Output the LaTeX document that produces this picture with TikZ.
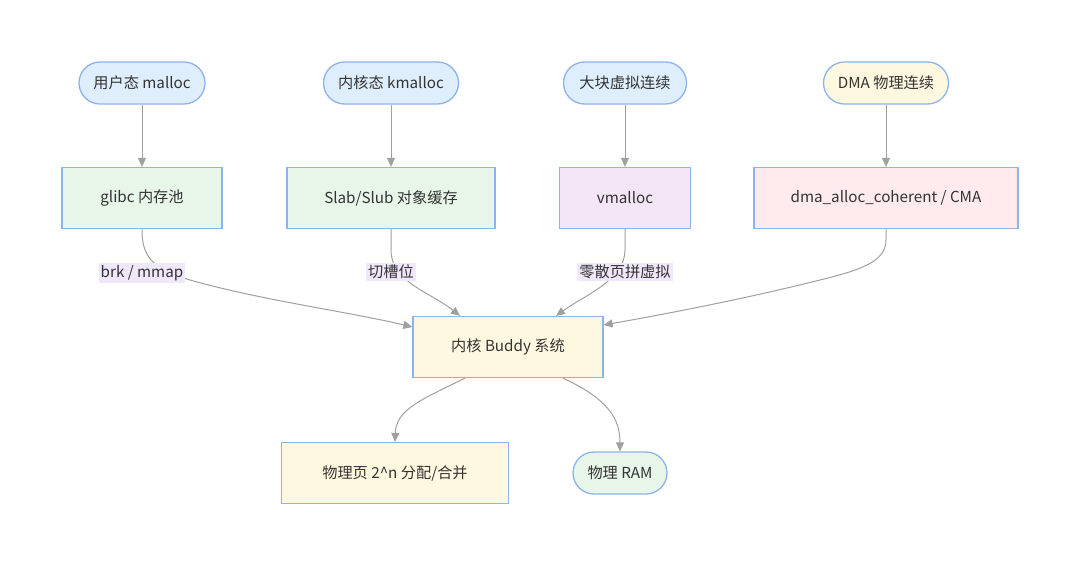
\documentclass[tikz,border=0pt]{standalone}
\usepackage{fontspec}
\setmainfont{Noto Sans CJK SC}
\usetikzlibrary{arrows.meta,calc}
\definecolor{txt}{HTML}{333333}
\definecolor{bord}{HTML}{8DB3EB}
\definecolor{fblue}{HTML}{DFEEFC}
\definecolor{fgreen}{HTML}{E8F5E9}
\definecolor{fyellow}{HTML}{FFF8E1}
\definecolor{fpurple}{HTML}{F3E5F5}
\definecolor{fpink}{HTML}{FFEBEE}
\definecolor{flabel}{HTML}{EEE8FA}
\definecolor{edgec}{HTML}{A0A0A0}
\tikzset{
  base/.style={draw=bord, line width=1.3pt, text=txt, font=\fontsize{15.2}{17}\selectfont, inner sep=0pt},
  stadium/.style={base, rectangle, rounded corners=21pt, minimum height=42pt},
  boxn/.style={base, rectangle, minimum height=61pt},
  elabel/.style={fill=flabel, text=txt, font=\fontsize{15.2}{17}\selectfont, inner sep=2pt},
  edge/.style={draw=edgec, line width=1pt, -{Triangle[length=9pt,width=8pt]}},
}
\begin{document}
\begin{tikzpicture}[x=1pt,y=-1pt]
\useasboundingbox (0,0) rectangle (1080,566);
\fill[white] (0,0) rectangle (1080,566);
% top stadiums
\node[stadium, fill=fblue, minimum width=126pt] (A) at (142,83) {用户态 malloc};
\node[stadium, fill=fblue, minimum width=135pt] (B) at (391,83) {内核态 kmalloc};
\node[stadium, fill=fblue, minimum width=123pt] (C) at (625,83) {大块虚拟连续};
\node[stadium, fill=fyellow, minimum width=125pt] (D) at (886,83) {DMA 物理连续};
% second row
\node[boxn, fill=fgreen, minimum width=160pt] (E) at (142,198) {glibc 内存池};
\node[boxn, fill=fgreen, minimum width=208pt] (F) at (391,198) {Slab/Slub 对象缓存};
\node[boxn, fill=fpurple, minimum width=131pt] (G) at (625,198) {vmalloc};
\node[boxn, fill=fpink, minimum width=264pt] (H) at (886,198) {dma\_alloc\_coherent / CMA};
% buddy
\node[boxn, fill=fyellow, minimum width=190pt] (I) at (508,347) {内核 Buddy 系统};
% bottom
\node[boxn, fill=fyellow, minimum width=227pt] (J) at (395,473) {物理页 2\^{}n 分配/合并};
\node[stadium, fill=fgreen, minimum width=94pt] (K) at (620,473) {物理 RAM};
% edges
\draw[edge] (A) -- (E);
\draw[edge] (B) -- (F);
\draw[edge] (C) -- (G);
\draw[edge] (D) -- (H);
\coordinate (Iw) at ($(I.west)+(0,-20)$);
\coordinate (Ie) at ($(I.east)+(0,-22)$);
\coordinate (In1) at ($(I.north)+(-48,0)$);
\coordinate (In2) at ($(I.north)+(48,0)$);
\coordinate (Is1) at ($(I.south)+(-43,0)$);
\coordinate (Is2) at ($(I.south)+(55,0)$);
\draw[edge] (E.south) .. controls (142,255) and (150,268) .. (190,280) .. controls (260,300) and (350,312) .. (Iw);
\draw[edge] (F.south) -- (391,250) .. controls (391,282) and (430,292) .. (In1);
\draw[edge] (G.south) -- (625,250) .. controls (625,280) and (585,295) .. (In2);
\draw[edge] (H.south) -- (886,240) .. controls (886,262) and (860,270) .. (820,280) .. controls (740,300) and (660,315) .. (Ie);
\draw[edge] (Is1) .. controls (420,400) and (396,410) .. (J.north);
\draw[edge] (Is2) .. controls (610,400) and (620,420) .. (K.north);
% edge labels
\node[elabel] (L1) at (142,273) {brk / mmap};
\node[elabel] (L2) at (391,272) {切槽位};
\node[elabel] (L3) at (625,272) {零散页拼虚拟};
\end{tikzpicture}
\end{document}
